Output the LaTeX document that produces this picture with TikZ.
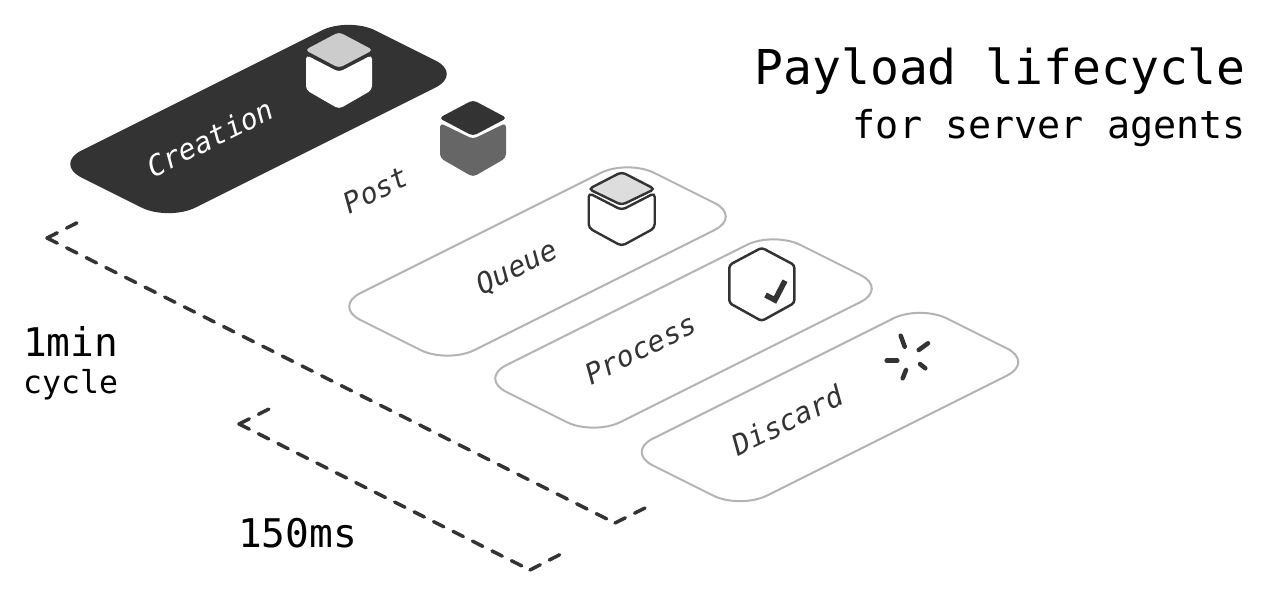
\documentclass[tikz,border=0pt]{standalone}
\usepackage{fontspec}
\setmonofont{DejaVu Sans Mono}
\definecolor{ink}{HTML}{333333}
\definecolor{edge}{HTML}{B3B3B3}
\definecolor{grayA}{HTML}{CCCCCC}
\definecolor{grayB}{HTML}{666666}
\definecolor{grayC}{HTML}{DDDDDD}
\newcommand{\platpath}{(0,0) -- ++(294,-147) -- ++(114,57) -- ++(-294,147) -- cycle}
\newcommand{\cubetop}{(0,-38) -- (34,-20) -- (0,-2) -- (-34,-20) -- cycle}
\newcommand{\cubebody}{(-33,-15) -- (-33,20) -- (0,38) -- (33,20) -- (33,-15) -- (0,2) -- cycle}
\tikzset{
  plat/.style={rounded corners=30pt,line width=2pt,draw=edge,fill=white},
  dashline/.style={draw=ink,line width=3.5pt,line cap=round,dash pattern=on 11.5pt off 10.45pt},
  dashshort/.style={draw=ink,line width=3.5pt,line cap=round,dash pattern=on 11.5pt off 10.27pt},
  plabel/.style={font=\ttfamily\itshape\fontsize{28.6}{29}\selectfont,text=ink,rotate=26.5,inner sep=0pt},
  bigtext/.style={font=\ttfamily\fontsize{39.5}{40}\selectfont,text=black,inner sep=0pt},
  smalltext/.style={font=\ttfamily\fontsize{31.5}{32}\selectfont,text=black,inner sep=0pt},
  spin/.style={draw=ink,line width=4.5pt,line cap=round}
}
\begin{document}
\begin{tikzpicture}[x=1pt,y=-1pt]
\useasboundingbox (0,0) rectangle (1268,595);
% platforms
\fill[ink,rounded corners=30pt,shift={(54.5,164)}] \platpath;
\draw[plat,shift={(333.5,306.5)}] \platpath;
\draw[plat,shift={(479.5,378.5)}] \platpath;
\draw[plat,shift={(626,452)}] \platpath;
% creation cube
\begin{scope}[shift={(339,70)},rounded corners=4pt]
\fill[white] (-33,-15) -- (-33,20) -- (0,39) -- (33,20) -- (33,-15) -- (0,2) -- cycle;
\fill[grayA] \cubetop;
\end{scope}
% post cube
\begin{scope}[shift={(473,138)},rounded corners=4pt]
\fill[grayB] (-33,-15) -- (-33,20) -- (0,39) -- (33,20) -- (33,-15) -- (0,1) -- cycle;
\fill[ink] \cubetop;
\end{scope}
% queue cube
\begin{scope}[shift={(621.7,208)},rounded corners=4pt,line width=2.4pt]
\draw[ink] \cubebody;
\filldraw[draw=ink,fill=grayC] (0,-36) -- (33,-19) -- (0,-3) -- (-33,-19) -- cycle;
\end{scope}
% hexagon with check
\draw[ink,line width=2.5pt,rounded corners=3pt] (761.7,247.7) -- (794.3,265) -- (794.3,303) -- (761.7,321) -- (729.3,303) -- (729.3,265) -- cycle;
\draw[ink,line width=5.5pt,line join=miter] (785,280.7) -- (775,300) -- (765.5,295);
% spinner
\draw[spin] (900.7,335.7) -- (904.7,346.7);
\draw[spin] (918.7,350) -- (928,343.3);
\draw[spin] (886.7,360.7) -- (897.3,360.7);
\draw[spin] (920,364) -- (925.3,368.3);
\draw[spin] (906,370) -- (902.7,378.3);
% dimension lines
\coordinate (a0) at (78,222.3);
\coordinate (a1) at (47,238);
\coordinate (a2) at (615,523);
\coordinate (a3) at (647,507);
\coordinate (b0) at (271,408);
\coordinate (b1) at (239,424);
\coordinate (b2) at (530,570);
\coordinate (b3) at (562,553.5);
\draw[dashline] (a1) -- (a0);
\draw[dashline] (a1) -- (a2);
\draw[dashline] (a2) -- (a3);
\draw[dashshort] (b1) -- (b0);
\draw[dashshort] (b1) -- (b2);
\draw[dashshort] (b2) -- (b3);
% labels
\node[plabel,text=white] (creation) at (210,138) {Creation};
\node[plabel] (post) at (376,190) {Post};
\node[plabel] (queue) at (517,268) {Queue};
\node[plabel] (process) at (640.5,349) {Process};
\node[plabel] (discard) at (787.5,420) {Discard};
\node[anchor=base east,inner sep=0pt,font=\ttfamily\fontsize{48}{48}\selectfont] (title) at (1246,84) {Payload lifecycle};
\node[anchor=base east,inner sep=0pt,font=\ttfamily\fontsize{38.4}{39}\selectfont] (subtitle) at (1246,138) {for server agents};
\node[bigtext,anchor=base west] (min) at (23,356) {1min};
\node[smalltext,anchor=base west] (cycle) at (23,393) {cycle};
\node[bigtext,anchor=base west] (ms) at (238,547) {150ms};
\end{tikzpicture}
\end{document}
